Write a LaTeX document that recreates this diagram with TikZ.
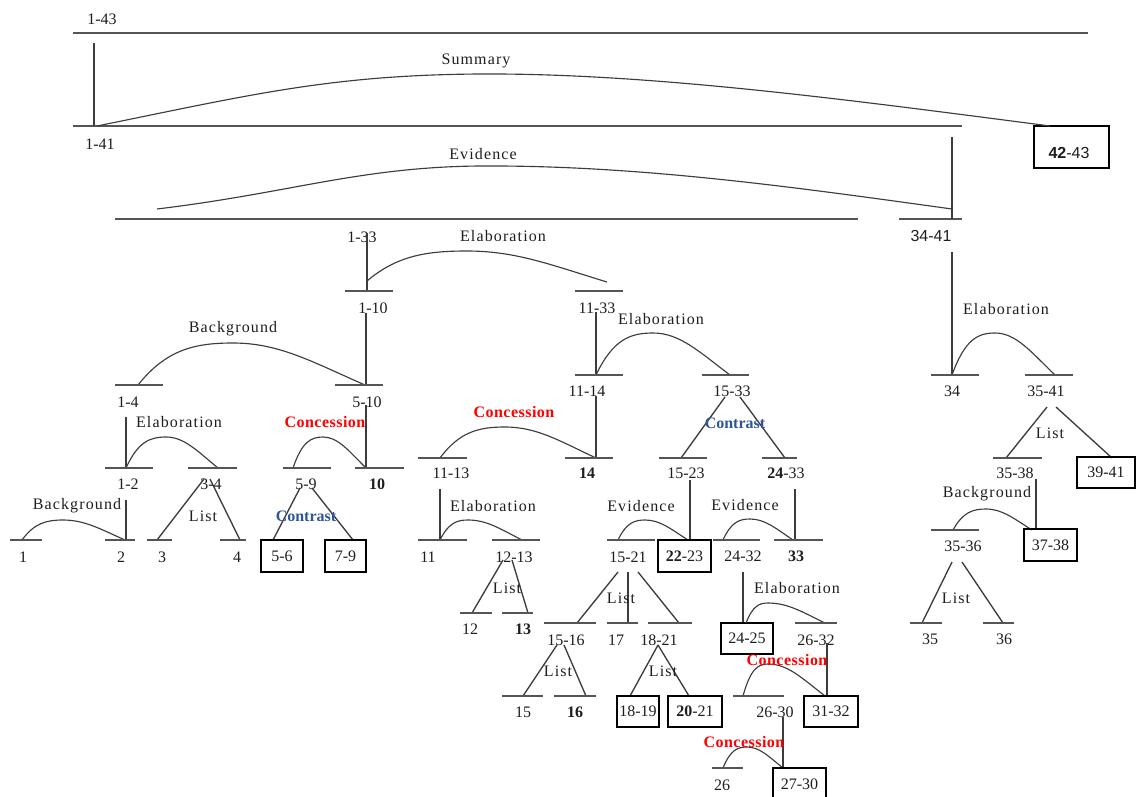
\documentclass[tikz,border=0pt]{standalone}
\usepackage{fontspec}
\setmainfont{Liberation Serif}
\setsansfont{Liberation Sans}
\definecolor{barcol}{RGB}{85,85,85}
\definecolor{linkcol}{RGB}{60,60,60}
\definecolor{numcol}{RGB}{30,30,30}
\definecolor{concred}{RGB}{255,0,0}
\definecolor{contrblue}{RGB}{47,85,151}

% span bar: name, y, x-left, x-right
\newcommand\spanbar[4]{%
  \coordinate (#1-l) at (#3,#2);
  \coordinate (#1-r) at (#4,#2);
  \draw[bar] (#1-l) -- (#1-r);}
% vertical nucleus link: name, x, y-top, y-bottom
\newcommand\nuc[4]{%
  \coordinate (#1-a) at (#2,#3);
  \coordinate (#1-b) at (#2,#4);
  \draw[link] (#1-a) -- (#1-b);}
% straight leg of a multinuclear relation: name, x1, y1, x2, y2
\newcommand\leg[5]{%
  \coordinate (#1-a) at (#2,#3);
  \coordinate (#1-b) at (#4,#5);
  \draw[link] (#1-a) -- (#1-b);}
% satellite arc: name, start, peak, end
\newcommand\relarc[7]{%
  \coordinate (#1-s) at (#2,#3);
  \coordinate (#1-p) at (#4,#5);
  \coordinate (#1-e) at (#6,#7);
  \pgfmathsetmacro\rsAx{#2+0.3*(#4-#2)}%
  \pgfmathsetmacro\rsAy{#3+0.85*(#5-#3)}%
  \pgfmathsetmacro\rsBx{#4-0.4*(#4-#2)}%
  \pgfmathsetmacro\rsCx{#4+0.35*(#6-#4)}%
  \pgfmathsetmacro\rsDx{#6-0.4*(#6-#4)}%
  \pgfmathsetmacro\rsDy{#7+0.55*(#5-#7)}%
  \draw[arcline] (#1-s) .. controls (\rsAx,\rsAy) and (\rsBx,#5) .. (#1-p)
     .. controls (\rsCx,#5) and (\rsDx,\rsDy) .. (#1-e);}
% boxed EDU: name, x1, y1, x2, y2, text
\newcommand\edubox[6]{%
  \node[edu, minimum width={(#4-#2)*0.75pt}, minimum height={(#5-#3)*0.75pt}]
    (#1) at ({(#2+#4)/2},{(#3+#5)/2}) {#6};}

\begin{document}
\begin{tikzpicture}[x=0.75pt,y=-0.75pt,
  bar/.style={draw=barcol, line width=1.3pt},
  link/.style={draw=linkcol, line width=1.0pt},
  arcline/.style={draw=linkcol, line width=0.85pt},
  edu/.style={draw=black, line width=1.9pt, inner sep=0pt, text=numcol,
    font=\fontsize{12}{14}\selectfont},
  num/.style={text=numcol, font=\fontsize{12}{14}\selectfont, inner sep=0pt},
  snum/.style={text=numcol, font=\fontsize{12}{14}\selectfont\sffamily, inner sep=0pt},
  rel/.style={text=numcol, font=\fontsize{12}{14}\selectfont\addfontfeatures{LetterSpace=7}, inner sep=0pt},
  conc/.style={text=concred, font=\fontsize{12}{14}\selectfont\bfseries\addfontfeatures{LetterSpace=3}, inner sep=0pt},
  contr/.style={text=contrblue, font=\fontsize{12}{14}\selectfont\bfseries, inner sep=0pt}]

\fill[white] (0,0) rectangle (1138,796);
\useasboundingbox (0,0) rectangle (1138,796);

% ---------- top levels ----------
\spanbar{s143}{33}{73}{1088}
\node[num] (l143) at (102,19) {1-43};
\spanbar{s141}{126}{73}{962}
\node[num] (l141) at (100,144) {1-41};
\nuc{n143}{94}{43}{126}
\edubox{e4243}{1034}{126}{1109}{168}{}
\node[snum] (l4243) at (1069,153) {\textbf{42}-43};
\coordinate (sumS) at (97,126);
\coordinate (sumP) at (480,74);
\coordinate (sumE) at (1050,126);
\draw[arcline] (sumS) .. controls (250,95) and (330,75) .. (sumP)
   .. controls (650,73) and (850,100) .. (sumE);
\node[rel] (rsum) at (476,61) {Summary};

\spanbar{s133}{219}{115}{858}
\node[num] (l133) at (362,237) {1-33};
\spanbar{s3441}{219}{899}{962}
\node[snum] (l3441) at (931,236) {34-41};
\nuc{n141}{952}{137}{219}
\coordinate (eviS) at (157,209);
\coordinate (eviP) at (480,166);
\coordinate (eviE) at (952,209);
\draw[arcline] (eviS) .. controls (290,193) and (360,167) .. (eviP)
   .. controls (640,165) and (800,188) .. (eviE);
\node[rel] (revi) at (483,154) {Evidence};

% ---------- 1-33 ----------
\nuc{n133}{367}{233}{291}
\relarc{r133}{367}{281}{467}{251}{607}{282}
\node[rel] (r133l) at (503,236) {Elaboration};
\spanbar{s110}{291}{345}{393}
\node[num] (l110) at (373,308) {1-10};
\spanbar{s1133}{291}{575}{623}
\node[num] (l1133) at (597,308) {11-33};

% ---------- 1-10 ----------
\nuc{n110}{366}{313}{385}
\relarc{r110}{138}{385}{233}{343}{365}{385}
\node[rel] (r110l) at (233,329) {Background};
\spanbar{s14}{385}{115}{163}
\node[num] (l14) at (128,402) {1-4};
\spanbar{s510}{385}{335}{383}
\node[num] (l510) at (367,402) {5-10};

\nuc{n14}{126}{417}{468}
\relarc{r14}{126}{468}{166}{437}{218}{468}
\node[rel] (r14l) at (179,422) {Elaboration};
\spanbar{s12}{468}{105}{153}
\node[num] (l12) at (128,484) {1-2};
\spanbar{s34}{468}{188}{237}
\node[num] (l34) at (211,484) {3-4};

\nuc{n510}{366}{405}{468}
\relarc{r510}{293}{468}{323}{437}{366}{468}
\node[conc] (r510l) at (325,422) {Concession};
\spanbar{s59}{468}{283}{331}
\node[num] (l59) at (306,484) {5-9};
\spanbar{s10}{468}{355}{404}
\node[num] (l10) at (377,484) {\textbf{10}};

\nuc{n12}{126}{500}{540}
\relarc{r12}{22}{540}{63}{520}{125}{540}
\node[rel] (r12l) at (77,506) {Background};
\spanbar{s1}{540}{10}{42}
\node[num] (l1) at (23,557) {1};
\spanbar{s2}{540}{105}{135}
\node[num] (l2) at (121,557) {2};

\leg{g34a}{204}{479}{157}{540}
\leg{g34b}{210}{479}{240}{540}
\node[rel] (r34l) at (203,516) {List};
\spanbar{s3}{540}{147}{172}
\node[num] (l3) at (162,557) {3};
\spanbar{s4}{540}{220}{246}
\node[num] (l4) at (237,557) {4};

\leg{g59a}{300}{488}{273}{540}
\leg{g59b}{312}{488}{353}{540}
\node[contr] (r59l) at (306,516) {Contrast};
\edubox{e56}{261}{540}{303}{572}{5-6}
\edubox{e79}{325}{540}{366}{572}{7-9}

% ---------- 11-33 ----------
\nuc{n1133}{596}{312}{375}
\relarc{r1133}{596}{375}{653}{333}{730}{375}
\node[rel] (r1133l) at (661,319) {Elaboration};
\spanbar{s1114}{375}{575}{623}
\node[num] (l1114) at (587,391) {11-14};
\spanbar{s1533}{375}{702}{749}
\node[num] (l1533) at (732,391) {15-33};

\nuc{n1114}{596}{396}{458}
\relarc{r1114}{440}{458}{505}{427}{596}{458}
\node[conc] (r1114l) at (514,412) {Concession};
\spanbar{s1113}{458}{418}{467}
\node[num] (l1113) at (451,473) {11-13};
\spanbar{s14b}{458}{565}{613}
\node[num] (l14b) at (587,473) {\textbf{14}};

\leg{g1533a}{725}{397}{681}{458}
\leg{g1533b}{740}{397}{785}{458}
\node[contr] (r1533l) at (735,423) {Contrast};
\spanbar{s1523}{458}{659}{707}
\node[num] (l1523) at (686,473) {15-23};
\spanbar{s2433}{458}{762}{797}
\node[num] (l2433) at (786,473) {\textbf{24}-33};

\nuc{n1113}{440}{489}{540}
\relarc{r1113}{440}{540}{468}{520}{522}{540}
\node[rel] (r1113l) at (493,506) {Elaboration};
\spanbar{s11}{540}{418}{467}
\node[num] (l11) at (428,557) {11};
\spanbar{s1213}{540}{492}{540}
\node[num] (l1213) at (514,557) {12-13};

\nuc{n1523}{690}{480}{540}
\relarc{r1523}{618}{540}{645}{520}{688}{540}
\node[rel] (r1523l) at (641,506) {Evidence};
\spanbar{s1521}{540}{607}{655}
\node[num] (l1521) at (628,557) {15-21};
\edubox{e2223}{658}{540}{711}{572}{\textbf{22}-23}

\nuc{n2433}{795}{489}{540}
\relarc{r2433}{723}{540}{750}{519}{793}{540}
\node[rel] (r2433l) at (745,505) {Evidence};
\spanbar{s2432}{540}{713}{760}
\node[num] (l2432) at (743,556) {24-32};
\spanbar{s33}{540}{774}{823}
\node[num] (l33) at (796,556) {\textbf{33}};

\leg{g1213a}{503}{560}{472}{613}
\leg{g1213b}{512}{560}{528}{613}
\node[rel] (r1213l) at (507,588) {List};
\spanbar{s12b}{613}{460}{492}
\node[num] (l12b) at (470,629) {12};
\spanbar{s13}{613}{502}{533}
\node[num] (l13) at (523,629) {\textbf{13}};

\leg{g1521a}{618}{572}{577}{623}
\leg{g1521b}{628}{572}{628}{623}
\leg{g1521c}{638}{572}{679}{623}
\node[rel] (r1521l) at (621,598) {List};
\spanbar{s1516}{623}{544}{596}
\node[num] (l1516) at (566,640) {15-16};
\spanbar{s17}{623}{607}{638}
\node[num] (l17) at (616,640) {17};
\spanbar{s1821}{623}{648}{692}
\node[num] (l1821) at (659,640) {18-21};

\nuc{n2432}{743}{572}{623}
\edubox{e2425}{721}{623}{773}{654}{24-25}
\relarc{r2432}{746}{623}{768}{603}{825}{623}
\node[rel] (r2432l) at (797,588) {Elaboration};
\spanbar{s2632}{623}{795}{837}
\node[num] (l2632) at (816,640) {26-32};

\leg{g1516a}{557}{645}{523}{696}
\leg{g1516b}{564}{645}{586}{696}
\node[rel] (r1516l) at (558,671) {List};
\spanbar{s15}{696}{502}{543}
\node[num] (l15) at (523,712) {15};
\spanbar{s16}{696}{554}{596}
\node[num] (l16) at (575,712) {\textbf{16}};

\leg{g1821a}{658}{645}{630}{696}
\leg{g1821b}{658}{645}{689}{696}
\node[rel] (r1821l) at (663,671) {List};
\edubox{e1819}{617}{696}{659}{727}{18-19}
\edubox{e2021}{668}{696}{722}{727}{\textbf{20}-21}

\nuc{n2632}{827}{643}{696}
\relarc{r2632}{743}{696}{768}{664}{825}{696}
\node[conc] (r2632l) at (787,660) {Concession};
\spanbar{s2630}{696}{733}{784}
\node[num] (l2630) at (775,712) {26-30};
\edubox{e3132}{804}{696}{858}{727}{31-32}

\nuc{n2630}{783}{717}{768}
\relarc{r2630}{723}{768}{747}{747}{783}{768}
\node[conc] (r2630l) at (744,742) {Concession};
\spanbar{s26}{768}{712}{743}
\node[num] (l26) at (722,785) {26};
\edubox{e2730}{773}{768}{826}{800}{27-30}

% ---------- 34-41 ----------
\nuc{n3441}{952}{252}{375}
\relarc{r3441}{952}{375}{995}{333}{1055}{375}
\node[rel] (r3441l) at (1006,309) {Elaboration};
\spanbar{s34b}{375}{931}{979}
\node[num] (l34b) at (952,391) {34};
\spanbar{s3541}{375}{1025}{1073}
\node[num] (l3541) at (1046,391) {35-41};

\leg{g3541a}{1047}{407}{1006}{458}
\leg{g3541b}{1056}{407}{1112}{458}
\node[rel] (r3541l) at (1050,433) {List};
\spanbar{s3538}{458}{993}{1042}
\node[num] (l3538) at (1015,473) {35-38};
\edubox{e3941}{1077}{457}{1135}{488}{39-41}

\nuc{n3538}{1036}{479}{529}
\relarc{r3538}{953}{530}{986}{509}{1032}{530}
\node[rel] (r3538l) at (987,494) {Background};
\spanbar{s3536}{530}{931}{979}
\node[num] (l3536) at (963,546) {35-36};
\edubox{e3738}{1024}{529}{1077}{561}{37-38}

\leg{g3536a}{952}{562}{922}{623}
\leg{g3536b}{962}{562}{1003}{623}
\node[rel] (r3536l) at (956,598) {List};
\spanbar{s35}{623}{910}{942}
\node[num] (l35) at (930,639) {35};
\spanbar{s36}{623}{983}{1014}
\node[num] (l36) at (1004,639) {36};
\end{tikzpicture}
\end{document}
